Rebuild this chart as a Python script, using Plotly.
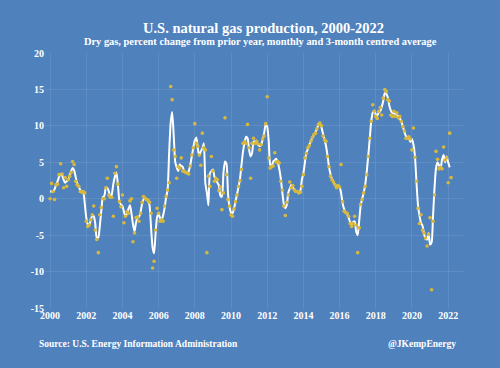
import pandas as pd
import plotly.graph_objects as go

# Monthly year-on-year % change in U.S. dry gas production
monthly_values = [
    # 2000
    0.0, 2.1, 1.0, -0.1, 1.9, 2.0, 3.3, 4.8, 3.4, 1.5, 2.9, 1.7,
    # 2001
    2.6, 3.1, 3.6, 5.1, 4.7, 2.4, 1.9, 1.7, 1.0, 0.9, 1.0, 0.8,
    # 2002
    -3.1, -3.8, -3.6, -2.9, -2.2, -1.0, -4.3, -5.6, -7.4, -2.2, -1.2, 0.0,
    # 2003
    0.0, 1.5, 2.8, 0.5, 0.2, 0.2, -2.4, 3.5, 4.4, 2.0, -0.4, -1.1,
    # 2004
    0.5, -3.3, -2.4, -1.8, -2.0, -0.3, 0.0, -5.9, -4.7, -2.6, -2.5, -3.1,
    # 2005
    -2.0, -0.5, 0.3, 0.1, -0.1, -0.2, -0.5, -2.0, -9.5, -8.6, -4.3, -1.3,
    # 2006
    -2.0, -3.1, -2.9, -3.1, -1.0, 0.3, 1.2, 2.2, 15.4, 13.6, 6.7, 5.8,
    # 2007
    2.8, 4.4, 4.2, 5.6, 3.8, 3.8, 3.6, 3.5, 3.4, 4.5, 6.0, 7.0,
    # 2008
    10.3, 7.6, 7.2, 6.0, 4.6, 9.0, 7.0, 6.7, -7.4, 3.1, 1.7, 5.8,
    # 2009
    3.8, 2.4, 2.8, 2.6, 1.1, 1.6, -1.5, 0.8, 11.1, 3.3, -0.1, -1.0,
    # 2010
    -2.2, -2.4, -1.4, -0.4, 0.5, 1.7, 2.5, 4.0, 7.6, 7.8, 7.6, 10.2,
    # 2011
    7.0, 2.8, 7.6, 8.3, 7.6, 7.9, 7.5, 6.7, 7.4, 8.2, 8.6, 10.3,
    # 2012
    14.0, 5.6, 4.2, 4.4, 4.5, 6.3, 5.0, 5.1, 4.9, 2.4, 1.2, -1.0,
    # 2013
    -2.3, -0.5, 0.5, 2.3, 1.5, 1.8, 1.2, 1.0, 1.0, 0.8, 0.9, 1.7,
    # 2014
    3.3, 5.6, 6.2, 7.0, 7.3, 7.9, 8.4, 8.8, 9.0, 9.6, 10.2, 10.4,
    # 2015
    10.0, 8.6, 8.1, 7.9, 5.8, 4.4, 3.1, 2.6, 2.3, 1.9, 1.5, 1.8,
    # 2016
    1.6, 4.7, -0.4, -1.7, -1.9, -2.0, -2.4, -3.4, -3.8, -3.4, -2.4, -3.6,
    # 2017
    -7.4, -4.0, -0.8, -0.1, 0.8, 1.7, 3.3, 5.8, 8.3, 10.6, 12.9, 12.0,
    # 2018
    11.3, 11.0, 12.0, 12.5, 11.5, 13.8, 15.0, 14.7, 13.6, 13.4, 11.5, 11.3,
    # 2019
    12.0, 11.3, 11.8, 11.1, 11.3, 10.6, 9.9, 9.3, 8.3, 8.3, 8.5, 8.2,
    # 2020
    6.7, 9.7, 5.7, 2.4, -1.3, -3.4, -2.2, -4.3, -4.7, -5.4, -6.5, -4.9,
    # 2021
    -2.6, -12.5, -3.1, 0.5, 6.5, 5.4, 4.1, 4.3, 4.1, 7.1, 5.3, 5.6,
    # 2022
    2.2, 9.0, 2.9,
]

# 3-month centred average (white line)
avg_values = [
    1.0, 1.0, 1.0, 1.3, 1.9, 2.4, 3.0, 3.4, 3.2, 2.6, 2.2, 2.4,
    2.6, 3.2, 3.8, 4.2, 3.9, 3.0, 2.1, 1.7, 1.2, 1.0, 0.9, -0.6,
    -2.6, -3.5, -3.6, -3.0, -2.3, -2.4, -3.4, -5.4, -5.3, -3.8, -1.6, 0.2,
    0.4, 1.5, 1.5, 1.0, 0.2, 0.6, 2.0, 3.0, 3.6, 2.0, -0.3, -0.8,
    -1.0, -1.8, -2.4, -2.1, -1.4, -0.9, -2.0, -3.5, -4.5, -3.3, -2.6, -2.5,
    -1.8, -0.7, -0.1, 0.1, -0.1, -0.3, -0.9, -4.0, -6.7, -7.5, -4.7, -2.5,
    -2.1, -2.7, -3.0, -2.3, -1.3, 0.2, 1.2, 6.3, 10.4, 11.9, 8.7, 5.1,
    4.3, 3.8, 4.7, 4.5, 4.4, 3.7, 3.6, 3.5, 3.8, 4.6, 5.8, 7.0,
    8.0, 8.4, 6.9, 5.9, 6.5, 6.9, 7.6, 2.1, 0.8, -0.9, 3.5, 3.8,
    4.0, 3.0, 2.6, 2.2, 1.8, 0.4, 0.3, 3.5, 5.1, 4.8, 0.7, -1.1,
    -1.9, -2.0, -1.4, -0.4, 0.6, 1.6, 2.7, 4.7, 6.5, 7.7, 8.5, 8.3,
    6.7, 5.8, 6.2, 7.8, 7.9, 7.7, 7.4, 7.2, 7.4, 8.1, 9.0, 10.2,
    9.9, 7.9, 4.7, 4.4, 5.1, 5.3, 5.5, 5.0, 4.1, 2.8, 0.9, -0.7,
    -1.3, -0.8, 0.8, 1.4, 1.9, 1.5, 1.3, 1.1, 0.9, 0.9, 1.1, 2.6,
    3.5, 5.0, 6.3, 6.8, 7.4, 7.9, 8.4, 8.7, 9.1, 9.6, 10.1, 10.2,
    9.8, 8.9, 8.2, 7.3, 6.0, 4.4, 3.4, 2.7, 2.3, 1.9, 1.7, 1.8,
    1.6, 0.8, -0.6, -1.4, -1.9, -2.1, -2.6, -3.2, -3.5, -3.2, -3.1, -4.5,
    -5.0, -3.0, -1.0, 0.0, 0.8, 1.9, 3.6, 5.8, 8.2, 10.6, 11.8, 12.1,
    11.6, 11.4, 11.8, 12.0, 12.6, 13.4, 14.5, 14.4, 13.9, 12.8, 12.1, 11.8,
    11.7, 11.7, 11.4, 11.4, 11.0, 10.6, 9.9, 9.2, 8.6, 8.4, 8.3, 7.8,
    8.2, 7.4, 5.9, 2.3, -0.8, -2.3, -3.3, -3.7, -4.8, -5.5, -5.6, -4.7,
    -6.3, -6.0, -2.5, 1.5, 4.2, 5.0, 4.6, 4.2, 5.4, 6.0, 5.0, 5.8,
    5.0, 4.3, None,
]

months = pd.date_range("2000-01-01", periods=len(monthly_values), freq="MS")

tick_years = [str(y) for y in range(2000, 2023, 2)]
tick_dates = [f"{y}-01-01" for y in tick_years]
y_ticks = [-15, -10, -5, 0, 5, 10, 15, 20]

BG = "#4F81BD"
FONT = "Liberation Serif"

fig = go.Figure()
fig.add_trace(go.Scatter(
    x=months, y=avg_values, mode="lines",
    line=dict(color="white", width=2, shape="spline", smoothing=0.6),
    hoverinfo="skip", showlegend=False,
))
fig.add_trace(go.Scatter(
    x=months, y=monthly_values, mode="markers",
    marker=dict(color="#D8B83C", size=3.6, line=dict(width=0)),
    showlegend=False,
))

fig.update_layout(
    width=500, height=368,
    paper_bgcolor=BG, plot_bgcolor=BG,
    margin=dict(l=45, r=35, t=53, b=60),
    font=dict(family=FONT, color="white"),
    xaxis=dict(
        range=["1999-09-21", "2022-12-07"],
        tickvals=tick_dates, ticktext=[f"<b>{t}</b>" for t in tick_years],
        tickfont=dict(size=10, color="white", family=FONT),
        showgrid=True, gridcolor="rgba(255,255,255,0.09)", gridwidth=1,
        zeroline=False, showline=False, ticks="",
    ),
    yaxis=dict(
        range=[-15, 20], tickvals=y_ticks,
        ticktext=[f"<b>{v}</b>" for v in y_ticks],
        tickfont=dict(size=10, color="white", family=FONT),
        showgrid=True, gridcolor="rgba(255,255,255,0.09)", gridwidth=1,
        zeroline=False, showline=False, ticks="",
    ),
    annotations=[
        dict(text="<b>U.S. natural gas production, 2000-2022</b>",
             xref="paper", yref="paper", x=0.52, y=1.0, yshift=25,
             showarrow=False, xanchor="center", yanchor="middle",
             font=dict(size=14.5, color="white", family=FONT)),
        dict(text="<b>Dry gas, percent change from prior year, monthly and 3-month centred average</b>",
             xref="paper", yref="paper", x=0.514, y=1.0, yshift=12,
             showarrow=False, xanchor="center", yanchor="middle",
             font=dict(size=10.4, color="white", family=FONT)),
        dict(text="<b>Source: U.S. Energy Information Administration</b>",
             xref="paper", yref="paper", x=-0.019, y=0, yshift=-36,
             showarrow=False, xanchor="left", yanchor="middle",
             font=dict(size=9.5, color="white", family=FONT)),
        dict(text="<b>@JKempEnergy</b>",
             xref="paper", yref="paper", x=0.983, y=0, yshift=-36,
             showarrow=False, xanchor="right", yanchor="middle",
             font=dict(size=9.5, color="white", family=FONT)),
    ],
)

fig.write_html(
    "out.html",
    config={"displayModeBar": False},
    post_script="document.body.style.margin='0';document.body.style.background='#4F81BD';",
)
